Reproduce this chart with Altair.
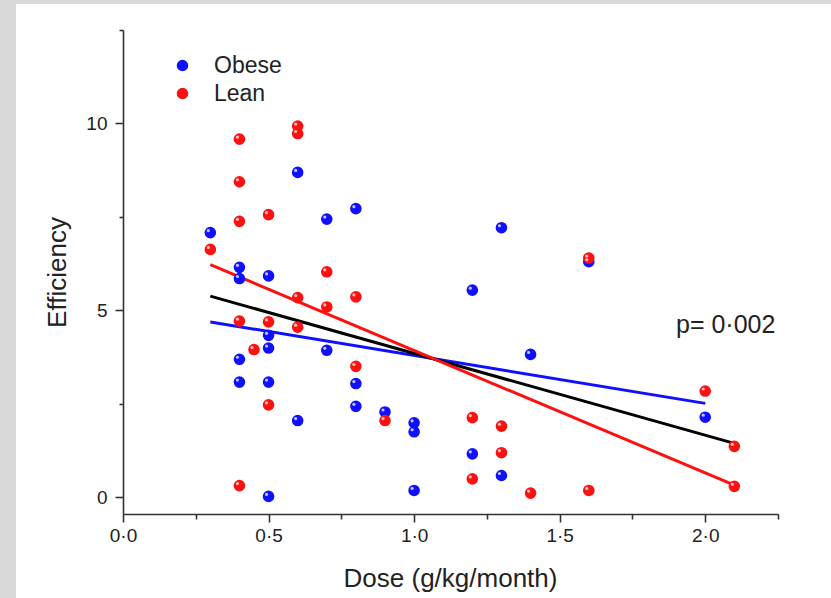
import altair as alt
import pandas as pd

# ---- data ----
obese_dose = [0.3, 0.4, 0.4, 0.4, 0.4, 0.5, 0.5, 0.5, 0.5, 0.5, 0.6, 0.6, 0.7, 0.7,
              0.8, 0.8, 0.8, 0.9, 1.0, 1.0, 1.0, 1.2, 1.2, 1.3, 1.3, 1.4, 1.6, 2.0]
obese_eff = [7.08, 6.15, 5.85, 3.69, 3.08, 5.92, 4.33, 3.99, 3.08, 0.02, 8.69, 2.05, 7.44, 3.93,
             7.72, 3.04, 2.43, 2.28, 1.99, 1.75, 0.18, 5.54, 1.16, 7.21, 0.58, 3.82, 6.30, 2.14]

lean_dose = [0.3, 0.4, 0.4, 0.4, 0.4, 0.4, 0.45, 0.5, 0.5, 0.5, 0.6, 0.6, 0.6, 0.6, 0.7,
             0.7, 0.8, 0.8, 0.9, 1.2, 1.2, 1.3, 1.3, 1.4, 1.6, 1.6, 2.0, 2.1, 2.1]
lean_eff = [6.63, 9.58, 8.44, 7.38, 4.71, 0.31, 3.95, 7.56, 4.69, 2.47, 9.93, 9.73, 5.34, 4.55, 6.03,
            5.09, 5.36, 3.50, 2.05, 2.13, 0.49, 1.90, 1.19, 0.11, 6.40, 0.18, 2.84, 1.36, 0.29]

# fitted regression lines (end points)
fit_group = ["Obese", "Obese", "All", "All", "Lean", "Lean"]
fit_dose = [0.3, 2.0, 0.3, 2.1, 0.3, 2.1]
fit_eff = [4.69, 2.51, 5.38, 1.44, 6.22, 0.32]

p_text = ["p= 0·002"]
groups = ["Obese", "Lean"]
x_ticks = [0, 0.25, 0.5, 0.75, 1.0, 1.25, 1.5, 1.75, 2.0, 2.25]
y_ticks = [0, 2.5, 5, 7.5, 10, 12.5]

pts = pd.DataFrame({
    "Dose": obese_dose + lean_dose,
    "Efficiency": obese_eff + lean_eff,
    "Group": ["Obese"] * len(obese_dose) + ["Lean"] * len(lean_dose),
})
fits = pd.DataFrame({"Group": fit_group, "Dose": fit_dose, "Efficiency": fit_eff})

FONT = "Liberation Sans"
TXT = "#222222"

xscale = alt.Scale(domain=[0, 2.25], nice=False, zero=False)
yscale = alt.Scale(domain=[-0.45, 12.5], nice=False, zero=False)

xaxis = alt.Axis(
    values=x_ticks, zindex=2,
    labelExpr="round(datum.value*4)%2===0 ? replace(format(datum.value,'.1f'),'.','·') : ''",
    grid=False, domainColor="#333333", domainWidth=1.6, tickColor="#333333", tickWidth=1.6,
    tickSize={"condition": {"test": "round(datum.value*4)%2===0", "value": 8}, "value": 5},
    labelFont=FONT, labelFontSize=19, labelColor=TXT, labelPadding=4,
    labelOverlap=False, labelFlush=False,
    title="Dose (g/kg/month)", titleFont=FONT, titleFontSize=26, titleFontWeight="normal",
    titleColor=TXT, titleBaseline="alphabetic", titleY=72, titleX=327, titleAlign="center",
)
yaxis = alt.Axis(
    values=y_ticks, zindex=2,
    labelExpr="datum.value % 5 === 0 ? datum.label : ''",
    grid=False, domainColor="#333333", domainWidth=1.6, tickColor="#333333", tickWidth=1.6,
    tickSize={"condition": {"test": "datum.value % 5 === 0", "value": 8}, "value": 4},
    labelFont=FONT, labelFontSize=19, labelColor=TXT, labelPadding=8,
    labelOverlap=False, labelFlush=False,
    title="Efficiency", titleFont=FONT, titleFontSize=26, titleFontWeight="normal",
    titleColor=TXT, titleAngle=-90, titleAlign="center", titleBaseline="middle",
    titleX=-66, titleY=242,
)

# white panel over the gray page background
panel = alt.Chart(pd.DataFrame({"k": [0]})).mark_rect(color="white").encode(
    x=alt.value(-107), x2=alt.value(708), y=alt.value(-26), y2=alt.value(568)
)

base_lines = alt.Chart(fits)
line_colors = {"Obese": "#1010ff", "All": "#000000", "Lean": "#ff1010"}
lines = [
    base_lines.transform_filter(alt.datum.Group == g).mark_line(
        color=c, strokeWidth=3
    ).encode(
        x=alt.X("Dose:Q", scale=xscale, axis=xaxis),
        y=alt.Y("Efficiency:Q", scale=yscale, axis=yaxis),
    )
    for g, c in line_colors.items()
]

points = alt.Chart(pts).mark_circle(size=135, opacity=1).encode(
    x=alt.X("Dose:Q", scale=xscale, axis=xaxis),
    y=alt.Y("Efficiency:Q", scale=yscale, axis=yaxis),
    color=alt.Color(
        "Group:N",
        scale=alt.Scale(domain=groups, range=["#1010ff", "#ff1010"]),
        legend=alt.Legend(
            orient="none", legendX=48, legendY=24, title=None,
            symbolType="circle", symbolSize=135, symbolStrokeWidth=0,
            labelFont=FONT, labelFontSize=23, labelColor=TXT, labelOffset=20,
            rowPadding=4, padding=0, offset=0, zindex=2,
        ),
    ),
)

highlight = alt.Chart(pts).mark_circle(
    size=10, color="white", opacity=0.75, xOffset=-2, yOffset=-2
).encode(
    x=alt.X("Dose:Q", scale=xscale, axis=xaxis),
    y=alt.Y("Efficiency:Q", scale=yscale, axis=yaxis),
)

ptext = alt.Chart(pd.DataFrame({"t": p_text})).mark_text(
    font=FONT, fontSize=25, color=TXT, align="left", baseline="middle"
).encode(text="t:N", x=alt.value(553), y=alt.value(295))

chart = alt.layer(panel, *lines, points, highlight, ptext).properties(
    width=655, height=484,
    autosize=alt.AutoSizeParams(type="none"),
    padding={"left": 123, "top": 30, "right": 53, "bottom": 84},
    background="#d9d9d9",
).configure_view(stroke=None)

chart.save("out.html", embed_options={"renderer": "svg", "actions": False})
